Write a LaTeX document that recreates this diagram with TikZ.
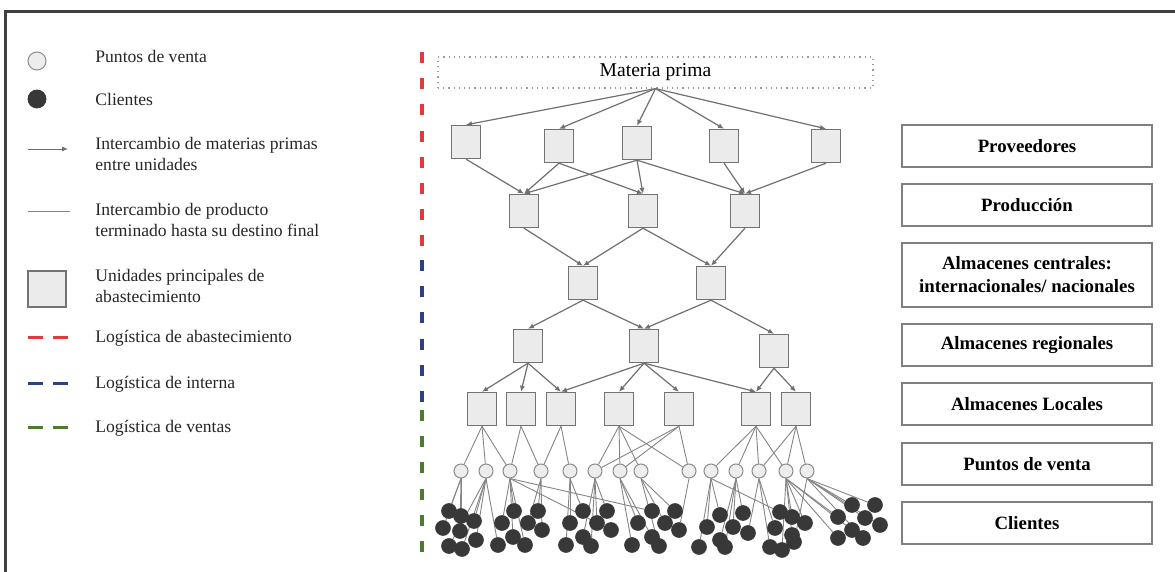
\documentclass[tikz,border=0pt]{standalone}
\usepackage{fontspec}
\setmainfont{Liberation Serif}
\usetikzlibrary{arrows.meta,positioning,backgrounds}
\definecolor{abastred}{HTML}{E5383B}
\definecolor{internblue}{HTML}{2E3F86}
\definecolor{ventgreen}{HTML}{4F7A32}
\definecolor{unitgray}{HTML}{EBEBEB}
\definecolor{edgegray}{HTML}{707070}
\definecolor{clientdark}{HTML}{383838}

\begin{document}
\begin{tikzpicture}[x=0.5pt,y=-0.5pt,>={Latex[length=3pt,width=2.6pt]},
  unit/.style={draw=black!55,line width=0.7pt,fill=unitgray,minimum width=14.5pt,minimum height=16.5pt,inner sep=0pt},
  pv/.style={circle,draw=black!45,line width=0.5pt,fill=black!7,minimum size=7pt,inner sep=0pt},
  cli/.style={circle,fill=clientdark,draw=clientdark,minimum size=7.4pt,inner sep=0pt},
  flow/.style={->,draw=edgegray,line width=0.6pt},
  link/.style={draw=edgegray!85,line width=0.45pt},
  level/.style={draw=black!50,line width=0.6pt,minimum width=125pt,minimum height=21pt,inner sep=1pt,font=\fontsize{9.4}{11.5}\selectfont\bfseries,align=center},
  legtxt/.style={anchor=west,align=left,font=\fontsize{8.8}{10.5}\selectfont,text=black!85,inner sep=0pt},
  logline/.style={line width=2pt,dash pattern=on 5.5pt off 7.6pt}]
\useasboundingbox (0,0) rectangle (1175,572);
\draw[line width=1.5pt,black!75] (5,572) -- (5,12) -- (1175,12);

% leyenda
\node[pv,minimum size=9pt] (lgpv) at (37,61) {};
\node[legtxt] (lgpvt) at (95,56) {Puntos de venta};
\node[cli,minimum size=9pt] (lgcli) at (37,99) {};
\node[legtxt] (lgclit) at (95,99) {Clientes};
\coordinate (lgfa) at (28,149);
\coordinate (lgfb) at (68,149);
\draw[flow,line width=0.4pt] (lgfa) -- (lgfb);
\node[legtxt] (lgflt) at (95,154) {Intercambio de materias primas\\entre unidades};
\coordinate (lgla) at (28,211);
\coordinate (lglb) at (70,211);
\draw[link] (lgla) -- (lglb);
\node[legtxt] (lglt) at (95,220) {Intercambio de producto\\terminado hasta su destino final};
\node[unit,minimum width=19pt,minimum height=18pt] (lgun) at (47,289) {};
\node[legtxt] (lgunt) at (95,286) {Unidades principales de\\abastecimiento};
\foreach \c/\y/\t in {abastred/338/abastecimiento,internblue/384/interna,ventgreen/428/ventas}{
    \coordinate (lgda) at (28,\y);
    \coordinate (lgdb) at (68,\y);
    \draw[\c,line width=1.5pt,dash pattern=on 7.5pt off 5pt] (lgda) -- (lgdb);
    \node[legtxt] at (95,\y) {Logística de \t};
}

% tipos de logistica
\coordinate (ra) at (422,52);  \coordinate (rb) at (422,247);
\coordinate (ba) at (422,260); \coordinate (bb) at (422,402);
\coordinate (ga) at (422,410); \coordinate (gb) at (422,552);
\draw[logline,abastred] (ra) -- (rb);
\draw[logline,internblue] (ba) -- (bb);
\draw[logline,ventgreen] (ga) -- (gb);

% red de abastecimiento
\node[draw=black!40,dotted,line width=0.6pt,minimum width=217.5pt,minimum height=15.5pt,inner sep=0pt,font=\fontsize{9.8}{11}\selectfont] (mp) at (655.5,72.5) {Materia prima};
\foreach \n/\x/\y in {1/466/142,2/559/146,3/637/143,4/724/146,5/826/146}{
    \node[unit] (prov\n) at (\x,\y) {};
    \draw[flow] (mp.south) -- (prov\n.north);
}
\foreach \n/\x in {1/524,2/643,3/745}
    \node[unit] (prod\n) at (\x,211) {};
\foreach \a/\b in {1/1,2/1,2/2,3/1,3/2,3/3,4/3,5/3}
    \draw[flow] (prov\a.south) -- (prod\b.north);
\foreach \n/\x in {1/583,2/711}
    \node[unit] (cen\n) at (\x,283) {};
\foreach \a/\b in {1/1,2/1,2/2,3/2}
    \draw[flow] (prod\a.south) -- (cen\b.north);
\foreach \n/\x/\y in {1/528/346,2/644/346,3/774/351}
    \node[unit] (reg\n) at (\x,\y) {};
\foreach \a/\b in {1/1,1/2,2/2,2/3}
    \draw[flow] (cen\a.south) -- (reg\b.north);
\foreach \n/\x in {1/482,2/521,3/561,4/619,5/679,6/756,7/796}
    \node[unit] (loc\n) at (\x,409) {};
\foreach \a/\b in {1/1,1/2,1/3,2/3,2/4,2/5,2/6,3/6,3/7}
    \draw[flow] (reg\a.south) -- (loc\b.north);

% puntos de venta y clientes
\foreach \x [count=\n] in {461,486,510,541,570,595,620,641,689,711,736,759,786,807}
    \node[pv] (pv\n) at (\x,471) {};
\begin{scope}[on background layer]
\foreach \a/\b in {1/1,1/2,1/3,2/3,2/4,3/4,3/5,4/6,4/7,4/8,4/9,5/6,5/7,5/9,6/10,6/11,6/12,6/13,7/12,7/13,7/14}
    \draw[link] (loc\a.south) -- (pv\b);
\end{scope}
\foreach \x/\y/\s [count=\i] in {449/511/1,461/516/1,443/528/1,474/521/2,460/531/1,449/546/2,462/549/2,476/540/2,
    502/523/3,514/511/3,538/511/4,528/523/4,513/537/3,542/530/4,498/545/2,525/545/3,
    570/523/5,583/511/5,607/511/6,597/523/6,583/537/6,611/530/3,566/545/5,591/546/6,
    638/523/7,652/511/3,675/511/8,665/523/8,652/537/7,679/530/9,632/545/7,659/546/8,
    720/515/10,743/513/11,707/527/10,733/527/11,748/533/12,720/540/11,699/547/10,725/547/11,
    780/512/10,792/517/13,775/528/12,805/523/13,792/535/13,770/547/12,782/550/13,794/542/14,
    852/505/14,875/505/14,838/517/13,865/518/14,880/525/14,852/530/13,838/538/13,863/538/14}{
    \node[cli] (cl\i) at (\x,\y) {};
    \begin{scope}[on background layer]
    \draw[link] (pv\s.south) -- (cl\i);
    \end{scope}
}

% niveles
\foreach \n/\y/\t in {prv/146/Proveedores,prd/205/Producción,reg/345/Almacenes regionales,loc/404/Almacenes Locales,pdv/464/Puntos de venta,cli/523/Clientes}
    \node[level] (lv\n) at (1027,\y) {\t};
\node[level,minimum height=32pt] (lvcen) at (1027,275) {Almacenes centrales:\\internacionales/ nacionales};
\end{tikzpicture}
\end{document}
